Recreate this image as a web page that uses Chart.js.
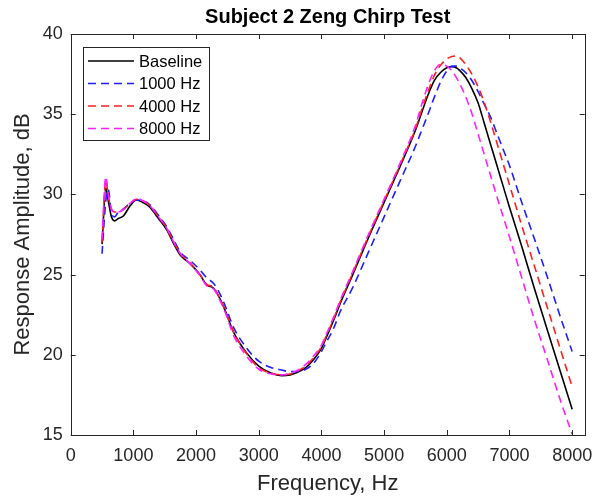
<!DOCTYPE html>
<html>
<head>
<meta charset="utf-8">
<script src="https://cdn.jsdelivr.net/npm/chart.js@4/dist/chart.umd.min.js"></script>
<style>
html,body{margin:0;padding:0;background:#fff;}
canvas{display:block;}
</style>
</head>
<body>
<canvas id="c" width="605" height="501"></canvas>
<script>
// ---- data ----
const freqHz = [500,560,600,650,700,760,840,950,1050,1150,1250,1400,1530,1640,1750,1900,2060,2170,2280,2380,2460,2600,2800,3000,3200,3365,3500,3600,3750,3870,4000,4080,4200,4300,4500,4750,5000,5250,5500,5600,5700,5800,5900,6000,6080,6150,6200,6300,6400,6500,6600,6700,6800,6900,7000,7200,7400,7600,7800,8000];

const baseline = [26.9,30.4,29.6,28.6,28.35,28.5,28.65,29.3,29.65,29.5,29.25,28.5,27.8,26.95,26.2,25.7,25.0,24.35,24.15,23.5,22.8,21.4,20.15,19.3,18.85,18.7,18.75,18.88,19.2,19.68,20.4,21.1,22.2,23.2,25.0,27.3,29.5,31.7,34.0,35.1,36.2,37.1,37.6,37.9,37.96,37.9,37.75,37.3,36.6,35.7,34.4,33.1,31.8,30.5,29.2,26.7,24.1,21.6,19.1,16.6];

const chirp1000 = [26.3,29.6,30.3,28.8,28.6,28.9,29.1,29.45,29.65,29.6,29.4,28.7,28.0,27.2,26.4,25.9,25.3,24.8,24.45,23.8,23.1,21.7,20.45,19.6,19.2,19.05,18.95,18.95,19.1,19.45,20.2,20.8,21.7,22.7,24.2,26.4,28.6,30.8,33.0,34.0,35.0,36.05,37.0,37.7,38.0,38.0,37.9,37.6,37.1,36.4,35.6,34.8,33.8,32.8,31.8,29.45,27.2,24.9,22.5,20.2];

const chirp4000 = [27.0,30.9,29.9,29.05,28.9,28.9,29.05,29.45,29.7,29.6,29.35,28.6,27.9,27.05,26.3,25.75,25.0,24.4,24.2,23.5,22.8,21.4,20.1,19.2,18.85,18.75,18.8,18.95,19.3,19.8,20.5,21.2,22.3,23.3,25.1,27.4,29.6,31.8,34.1,35.3,36.4,37.4,38.05,38.45,38.6,38.63,38.55,38.1,37.5,36.7,35.7,34.5,33.2,31.9,30.6,28.0,25.5,23.0,20.5,18.0];

const chirp8000 = [27.2,31.1,30.0,29.1,28.9,28.9,29.05,29.45,29.75,29.6,29.35,28.6,27.9,27.05,26.3,25.7,24.95,24.3,24.1,23.4,22.7,21.2,19.95,19.1,18.8,18.75,18.85,19.0,19.4,19.9,20.6,21.3,22.4,23.4,25.2,27.5,29.7,31.9,34.3,35.6,36.8,37.7,38.1,38.0,37.7,37.3,36.95,36.1,35.05,33.75,32.45,31.15,29.85,28.6,27.35,24.75,22.15,19.75,17.3,15.05];

const seriesLabels = ['Baseline','1000 Hz','4000 Hz','8000 Hz'];
const xTickValues = [0,1000,2000,3000,4000,5000,6000,7000,8000];
const yTickValues = [15,20,25,30,35,40];

// ---- styling ----
const FONT = "'Liberation Sans', Arial, Helvetica, sans-serif";
const AXIS_COLOR = '#262626';

function pts(vals){ return freqHz.map((f,i)=>({x:f, y:vals[i]})); }

const seriesStyle = [
  {color:'#000000', dash:[]},
  {color:'#1f1fff', dash:[8,5]},
  {color:'#ff1f1f', dash:[8,5]},
  {color:'#ff1fff', dash:[8,5]}
];
const seriesValues = [baseline, chirp1000, chirp4000, chirp8000];

const datasets = seriesValues.map((v,i)=>({
  label: seriesLabels[i],
  data: pts(v),
  borderColor: seriesStyle[i].color,
  borderDash: seriesStyle[i].dash,
  borderWidth: 1.6,
  pointRadius: 0,
  fill: false,
  cubicInterpolationMode: 'monotone',
  order: 4 - i
}));

const boxAndTicks = {
  id: 'boxAndTicks',
  afterDatasetsDraw(chart){
    const {ctx, chartArea:a, scales} = chart;
    ctx.save();
    ctx.strokeStyle = AXIS_COLOR;
    ctx.lineWidth = 1;
    ctx.strokeRect(Math.round(a.left)+0.5, Math.round(a.top)+0.5, Math.round(a.right-a.left), Math.round(a.bottom-a.top));
    const L = 5;
    ctx.beginPath();
    xTickValues.forEach(v=>{
      const px = Math.round(scales.x.getPixelForValue(v))+0.5;
      ctx.moveTo(px, a.bottom); ctx.lineTo(px, a.bottom - L);
      ctx.moveTo(px, a.top); ctx.lineTo(px, a.top + L);
    });
    yTickValues.forEach(v=>{
      const py = Math.round(scales.y.getPixelForValue(v))+0.5;
      ctx.moveTo(a.left, py); ctx.lineTo(a.left + L, py);
      ctx.moveTo(a.right, py); ctx.lineTo(a.right - L, py);
    });
    ctx.stroke();
    ctx.restore();
  }
};

const insideLegend = {
  id: 'insideLegend',
  afterDraw(chart){
    const {ctx} = chart;
    const x0 = 83, y0 = 47, w = 126, h = 93;
    ctx.save();
    ctx.fillStyle = '#ffffff';
    ctx.fillRect(x0, y0, w, h);
    ctx.strokeStyle = AXIS_COLOR;
    ctx.lineWidth = 1;
    ctx.strokeRect(x0+0.5, y0+0.5, w, h);
    ctx.font = '16.5px ' + FONT;
    ctx.textBaseline = 'middle';
    ctx.textAlign = 'left';
    chart.data.datasets.forEach((ds,i)=>{
      const y = 61 + i*22.5;
      ctx.beginPath();
      ctx.setLineDash(ds.borderDash || []);
      ctx.strokeStyle = ds.borderColor;
      ctx.lineWidth = ds.borderWidth;
      ctx.moveTo(88, y); ctx.lineTo(134, y);
      ctx.stroke();
      ctx.setLineDash([]);
      ctx.fillStyle = '#000000';
      ctx.fillText(ds.label, 139, y+1);
    });
    ctx.restore();
  }
};

new Chart(document.getElementById('c'), {
  type: 'line',
  data: { datasets },
  options: {
    responsive: false,
    animation: false,
    events: [],
    layout: { padding: { left: 0, right: 20.3, top: 0, bottom: 0 } },
    plugins: {
      legend: { display: false },
      tooltip: { enabled: false },
      title: {
        display: true,
        text: 'Subject 2 Zeng Chirp Test',
        fullSize: false,
        color: '#000000',
        font: { family: FONT, size: 20, weight: 'bold', lineHeight: 1.2 },
        padding: { top: 5, bottom: 5 }
      }
    },
    scales: {
      x: {
        type: 'linear',
        position: 'bottom',
        min: 0, max: 8200,
        afterBuildTicks: s => { s.ticks = xTickValues.map(v=>({value:v})); },
        afterFit: s => { s.height = 66; },
        grid: { display: true, drawOnChartArea: false, drawTicks: false },
        border: { display: false },
        ticks: { color: AXIS_COLOR, font: { family: FONT, size: 18 }, padding: 10, maxRotation: 0, autoSkip: false,
                 callback: v => String(v) },
        title: { display: true, text: 'Frequency, Hz', color: AXIS_COLOR, font: { family: FONT, size: 22 }, padding: { top: 3.8, bottom: 3.8 } }
      },
      y: {
        type: 'linear',
        position: 'left',
        min: 15, max: 40,
        afterBuildTicks: s => { s.ticks = yTickValues.map(v=>({value:v})); },
        afterFit: s => { s.width = 70.7; },
        grid: { display: true, drawOnChartArea: false, drawTicks: false },
        border: { display: false },
        ticks: { color: AXIS_COLOR, font: { family: FONT, size: 18 }, padding: 8, autoSkip: false,
                 callback: v => String(v) },
        title: { display: true, text: 'Response Amplitude, dB', color: AXIS_COLOR, font: { family: FONT, size: 22 }, padding: { top: 10, bottom: 0 } }
      }
    }
  },
  plugins: [boxAndTicks, insideLegend]
});
</script>
</body>
</html>
